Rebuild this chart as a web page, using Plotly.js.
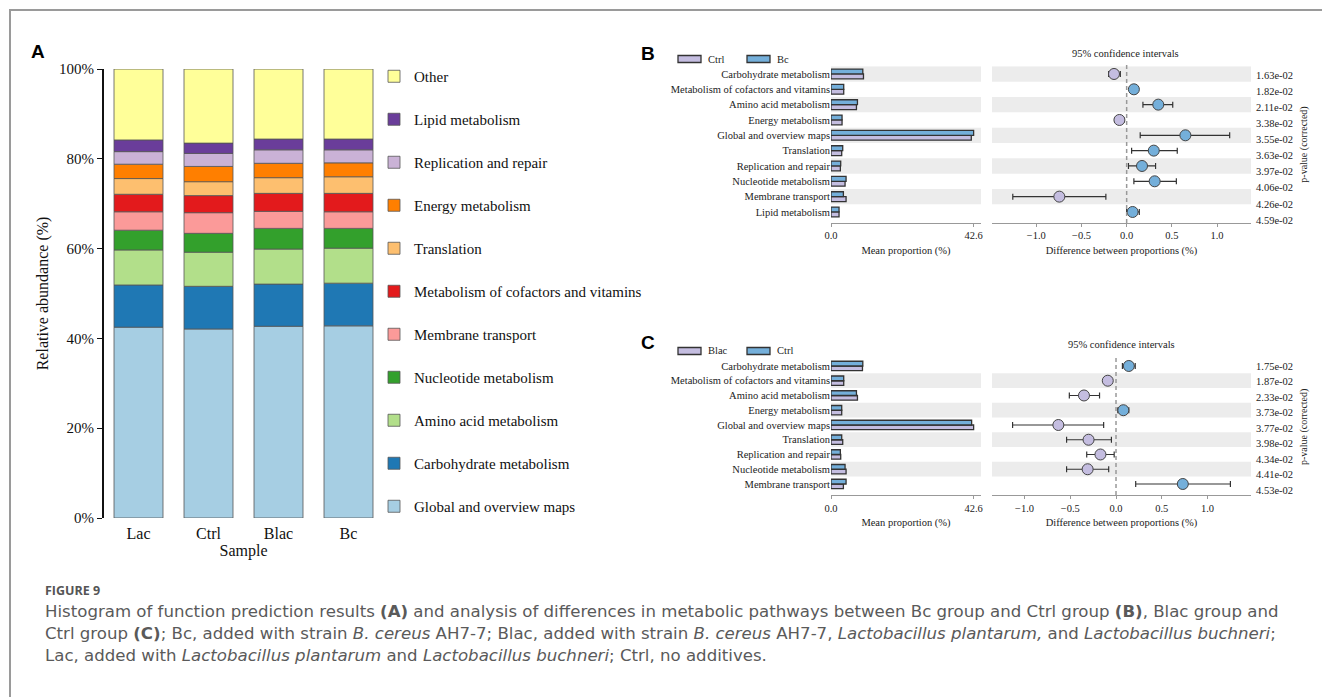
<!DOCTYPE html>
<html>
<head>
<meta charset="utf-8">
<script src="https://cdn.plot.ly/plotly-3.0.1.min.js"></script>
<style>
html,body{margin:0;padding:0;background:#fff;}
#chart{width:1322px;height:697px;}
</style>
</head>
<body>
<div id="chart"></div>
<script>
// ---------------- Panel A data ----------------
var samples = ['Lac', 'Ctrl', 'Blac', 'Bc'];
var pathways = ['Global and overview maps', 'Carbohydrate metabolism', 'Amino acid metabolism',
  'Nucleotide metabolism', 'Membrane transport', 'Metabolism of cofactors and vitamins',
  'Translation', 'Energy metabolism', 'Replication and repair', 'Lipid metabolism', 'Other'];
var globalMaps   = [42.5, 42.1, 42.7, 42.8];
var carbohydrate = [9.4, 9.5, 9.4, 9.5];
var aminoAcid    = [7.8, 7.6, 7.8, 7.8];
var nucleotide   = [4.4, 4.2, 4.6, 4.4];
var membrane     = [4.1, 4.6, 3.8, 3.7];
var cofactors    = [3.9, 3.8, 4.0, 4.1];
var translation  = [3.5, 3.1, 3.5, 3.7];
var energy       = [3.2, 3.4, 3.2, 3.1];
var replication  = [2.8, 2.9, 3.0, 2.9];
var lipid        = [2.6, 2.3, 2.4, 2.4];
var other        = [15.8, 16.5, 15.6, 15.6];
var seriesA = [globalMaps, carbohydrate, aminoAcid, nucleotide, membrane, cofactors,
  translation, energy, replication, lipid, other];
var colorsA = ['#a6cee3', '#1f78b4', '#b2df8a', '#33a02c', '#fb9a99', '#e31a1c',
  '#fdbf6f', '#ff7f00', '#cab2d6', '#6a3d9a', '#ffff99'];
var yTicksA = [0, 20, 40, 60, 80, 100];

// ---------------- Panel B data (top to bottom) ----------------
var catB = ['Carbohydrate metabolism', 'Metabolism of cofactors and vitamins', 'Amino acid metabolism',
  'Energy metabolism', 'Global and overview maps', 'Translation', 'Replication and repair',
  'Nucleotide metabolism', 'Membrane transport', 'Lipid metabolism'];
var ctrlB = [9.7, 3.8, 7.6, 3.3, 41.9, 3.2, 2.8, 4.2, 4.5, 2.4];
var bcB   = [9.5, 3.8, 7.9, 3.3, 42.6, 3.5, 2.9, 4.5, 3.7, 2.4];
var diffB = [-0.14, 0.08, 0.35, -0.08, 0.65, 0.30, 0.17, 0.31, -0.745, 0.066];
var loB   = [-0.20, 0.05, 0.18, -0.13, 0.15, 0.055, 0.02, 0.08, -1.26, 0.0];
var hiB   = [-0.07, 0.11, 0.51, -0.03, 1.14, 0.56, 0.32, 0.55, -0.23, 0.14];
var pB    = ['1.63e-02', '1.82e-02', '2.11e-02', '3.38e-02', '3.55e-02', '3.63e-02',
  '3.97e-02', '4.06e-02', '4.26e-02', '4.59e-02'];

// ---------------- Panel C data (top to bottom) ----------------
var catC = ['Carbohydrate metabolism', 'Metabolism of cofactors and vitamins', 'Amino acid metabolism',
  'Energy metabolism', 'Global and overview maps', 'Translation', 'Replication and repair',
  'Nucleotide metabolism', 'Membrane transport'];
var blacC = [9.4, 3.8, 7.9, 3.2, 42.6, 3.5, 2.9, 4.5, 3.7];
var ctrlC = [9.5, 3.8, 7.6, 3.2, 42.0, 3.2, 2.8, 4.2, 4.5];
var diffC = [0.14, -0.09, -0.35, 0.08, -0.63, -0.30, -0.17, -0.31, 0.73];
var loC   = [0.07, -0.12, -0.51, 0.02, -1.13, -0.54, -0.32, -0.54, 0.215];
var hiC   = [0.21, -0.06, -0.18, 0.14, -0.135, -0.05, -0.02, -0.08, 1.25];
var pC    = ['1.75e-02', '1.87e-02', '2.33e-02', '3.73e-02', '3.77e-02', '3.98e-02',
  '4.34e-02', '4.41e-02', '4.53e-02'];
var meanTicks = [0, 42.6];
var meanTickText = ['0.0', '42.6'];
var diffTicks = [-1, -0.5, 0, 0.5, 1];

// ---------------- helpers ----------------
var W = 1322, H = 697;
function X(px) { return px / W; }
function Y(py) { return 1 - py / H; }
var SERIF = 'Liberation Serif, Times New Roman, serif';
var LAV = '#c4bde0', BLUE = '#74afda', BAND = '#ececec';

var traces = [];
// Panel A stacked bars
var cum = [0, 0, 0, 0];
seriesA.forEach(function (vals, i) {
  traces.push({
    type: 'bar', x: samples, y: vals, base: cum.slice(), name: pathways[i],
    xaxis: 'x', yaxis: 'y', width: 0.7, offset: -0.35,
    legendgroup: pathways[i], legendrank: 1000 - i, showlegend: true,
    marker: { color: colorsA[i], line: { color: '#555', width: 0.8 } },
    hoverinfo: 'skip'
  });
  cum = cum.map(function (c, k) { return c + vals[k]; });
});

function rev(a) { return a.slice().reverse(); }
function idx(n) { var r = []; for (var i = 0; i < n; i++) r.push(i); return r; }

function addPanel(cats, lowVals, highVals, lowColor, highColor, diff, lo, hi, xa, ya, xd, yd) {
  var yc = rev(cats);
  traces.push({ type: 'bar', orientation: 'h', y: yc, x: rev(lowVals), xaxis: xa, yaxis: ya,
    width: 0.32, offset: -0.32, showlegend: false, hoverinfo: 'skip',
    marker: { color: lowColor, line: { color: '#333', width: 1.3 } } });
  traces.push({ type: 'bar', orientation: 'h', y: yc, x: rev(highVals), xaxis: xa, yaxis: ya,
    width: 0.32, offset: 0, showlegend: false, hoverinfo: 'skip',
    marker: { color: highColor, line: { color: '#333', width: 1.3 } } });
  var d = rev(diff), l = rev(lo), h = rev(hi);
  traces.push({ type: 'scatter', mode: 'markers', y: yc, x: d, xaxis: xd, yaxis: yd,
    showlegend: false, hoverinfo: 'skip', cliponaxis: false,
    error_x: { type: 'data', symmetric: false,
      array: d.map(function (v, k) { return h[k] - v; }),
      arrayminus: d.map(function (v, k) { return v - l[k]; }),
      color: '#333', thickness: 1.2, width: 3 },
    marker: { size: 11, color: d.map(function (v) { return v >= 0 ? highColor : lowColor; }),
      line: { color: '#444', width: 1 } } });
}
addPanel(catB, ctrlB, bcB, LAV, BLUE, diffB, loB, hiB, 'x2', 'y2', 'x3', 'y3');
addPanel(catC, blacC, ctrlC, LAV, BLUE, diffC, loC, hiC, 'x4', 'y5', 'x5', 'y6');
// invisible traces to activate p-value axes
traces.push({ type: 'scatter', x: [0], y: [0], xaxis: 'x3', yaxis: 'y4', mode: 'markers',
  marker: { opacity: 0 }, showlegend: false, hoverinfo: 'skip' });
traces.push({ type: 'scatter', x: [0], y: [0], xaxis: 'x5', yaxis: 'y7', mode: 'markers',
  marker: { opacity: 0 }, showlegend: false, hoverinfo: 'skip' });

var shapes = [];
// figure frame
shapes.push({ type: 'rect', xref: 'paper', yref: 'paper', x0: X(10), x1: X(1340), y0: Y(10), y1: Y(720),
  line: { color: '#9a9a9a', width: 2 }, fillcolor: 'rgba(0,0,0,0)' });
function bands(n, xa, ya) {
  for (var i = 1; i < n; i += 2) {
    shapes.push({ type: 'rect', layer: 'below', xref: xa + ' domain', yref: ya,
      x0: 0, x1: 1, y0: i - 0.5, y1: i + 0.5, fillcolor: BAND, line: { width: 0 } });
  }
}
bands(catB.length, 'x2', 'y2'); bands(catB.length, 'x3', 'y3');
bands(catC.length, 'x4', 'y5'); bands(catC.length, 'x5', 'y6');
// zero dashed lines
shapes.push({ type: 'line', xref: 'x3', yref: 'paper', x0: 0, x1: 0, y0: Y(223), y1: Y(62),
  line: { color: '#999', width: 1.5, dash: '4px,3px' } });
shapes.push({ type: 'line', xref: 'x5', yref: 'paper', x0: 0, x1: 0, y0: Y(495), y1: Y(357),
  line: { color: '#999', width: 1.5, dash: '4px,3px' } });
// legend swatches B / C
function swatch(x0, yc, col) {
  shapes.push({ type: 'rect', xref: 'paper', yref: 'paper', x0: X(x0), x1: X(x0 + 23),
    y0: Y(yc + 3.5), y1: Y(yc - 3.5), fillcolor: col, line: { color: '#333', width: 1.3 } });
}
swatch(678, 59, LAV); swatch(747, 59, BLUE);
swatch(678, 351, LAV); swatch(747, 351, BLUE);

var ann = [];
function txt(t, x, y, opts) {
  var a = Object.assign({ text: t, xref: 'paper', yref: 'paper', x: X(x), y: Y(y),
    xanchor: 'left', yanchor: 'middle', showarrow: false,
    font: { family: SERIF, size: 10.5, color: '#222' } }, opts || {});
  ann.push(a);
}
txt('Ctrl', 706, 59); txt('Bc', 775, 59);
txt('Blac', 706, 351); txt('Ctrl', 775, 351);
txt('95% confidence intervals', 1125, 53, { xanchor: 'center' });
txt('95% confidence intervals', 1121, 344, { xanchor: 'center' });
var LBL = { family: 'Liberation Sans, Arial, sans-serif', size: 19, color: '#000', weight: 'bold' };
txt('<b>A</b>', 29, 52, { font: LBL });
txt('<b>B</b>', 639, 53, { font: LBL });
txt('<b>C</b>', 639, 342, { font: LBL });
var CAP = { family: 'DejaVu Sans, sans-serif', size: 16.6, color: '#5a5a5a' };
txt('<b>FIGURE 9</b>', 43, 590, { font: { family: 'Open Sans, sans-serif', size: 12.5, color: '#555' } });
txt('Histogram of function prediction results <b>(A)</b> and analysis of differences in metabolic pathways between Bc group and Ctrl group <b>(B)</b>, Blac group and', 43, 611, { font: CAP });
txt('Ctrl group <b>(C)</b>; Bc, added with strain <i>B. cereus</i> AH7-7; Blac, added with strain <i>B. cereus</i> AH7-7, <i>Lactobacillus plantarum,</i> and <i>Lactobacillus buchneri</i>;', 43, 633, { font: CAP });
txt('Lac, added with <i>Lactobacillus plantarum</i> and <i>Lactobacillus buchneri</i>; Ctrl, no additives.', 43, 655, { font: CAP });

var tf = { family: SERIF, size: 10.5, color: '#222' };
function meanAxis(dom, anchor) {
  return { domain: dom, anchor: anchor, range: [0, 44.8], tickvals: meanTicks, ticktext: meanTickText,
    showline: true, linecolor: '#999', linewidth: 1, ticks: 'outside', ticklen: 3, tickcolor: '#999',
    showgrid: false, zeroline: false, tickfont: tf,
    title: { text: 'Mean proportion (%)', font: tf, standoff: 6 } };
}
function diffAxis(dom, anchor, rng) {
  return { domain: dom, anchor: anchor, range: rng, tickvals: diffTicks, tickformat: '.1f',
    showline: true, linecolor: '#999', linewidth: 1, ticks: 'outside', ticklen: 3, tickcolor: '#999',
    showgrid: false, zeroline: false, tickfont: tf,
    title: { text: 'Difference between proportions (%)', font: tf, standoff: 6 } };
}
function catAxis(dom, anchor, cats, rng, showLabels) {
  return { domain: dom, anchor: anchor, type: 'category', categoryorder: 'array',
    categoryarray: rev(cats), range: rng, showline: false, showgrid: false, zeroline: false,
    ticks: '', showticklabels: showLabels, tickfont: tf };
}
function pAxis(over, anchor, pv, rng) {
  return { overlaying: over, anchor: anchor, side: 'right', range: rng,
    tickvals: idx(pv.length), ticktext: rev(pv), showgrid: false, zeroline: false,
    showline: false, ticks: '', tickfont: tf, ticklabelstandoff: 4,
    title: { text: 'p-value (corrected)', font: { family: SERIF, size: 10, color: '#222' }, standoff: 7 } };
}

var domBy = [Y(222.7), Y(66.3)], domCy = [Y(495), Y(358.6)];
var layout = {
  width: W, height: H, margin: { l: 0, r: 0, t: 0, b: 0, pad: 0 },
  paper_bgcolor: '#fff', plot_bgcolor: 'rgba(0,0,0,0)',
  barmode: 'overlay', showlegend: true,
  legend: { x: X(374), y: Y(60), xanchor: 'left', yanchor: 'top',
    traceorder: 'grouped', tracegroupgap: 20.5,
    font: { family: SERIF, size: 15, color: '#111' }, bgcolor: 'rgba(0,0,0,0)' },
  xaxis: { domain: [X(103.5), X(383.5)], anchor: 'y', type: 'category', range: [-0.5, 3.5],
    showline: false, showgrid: false, zeroline: false, ticks: 'outside', ticklen: 1,
    tickcolor: 'rgba(0,0,0,0)', tickfont: { family: SERIF, size: 16, color: '#111' },
    title: { text: 'Sample', font: { family: SERIF, size: 16, color: '#111' }, standoff: 0 } },
  yaxis: { domain: [Y(518), Y(69)], anchor: 'x', range: [0, 100], tickvals: yTicksA,
    ticktext: yTicksA.map(function (v) { return v + '%'; }),
    showline: true, linecolor: '#111', linewidth: 1.5, ticks: 'outside', ticklen: 5, tickcolor: '#111',
    showgrid: false, zeroline: false, tickfont: { family: SERIF, size: 15, color: '#111' },
    title: { text: 'Relative abundance (%)', font: { family: SERIF, size: 16, color: '#111' }, standoff: 6 } },
  xaxis2: meanAxis([X(831), X(981)], 'y2'),
  yaxis2: catAxis(domBy, 'x2', catB, [-0.7, 9.5], true),
  xaxis3: diffAxis([X(992), X(1251)], 'y3', [-1.49, 1.376]),
  yaxis3: catAxis(domBy, 'x3', catB, [-0.7, 9.5], false),
  yaxis4: pAxis('y3', 'x3', pB, [-0.168, 9.54]),
  xaxis4: meanAxis([X(831), X(981)], 'y5'),
  yaxis5: catAxis(domCy, 'x4', catC, [-0.746, 8.5], true),
  xaxis5: diffAxis([X(992), X(1251)], 'y6', [-1.355, 1.475]),
  yaxis6: catAxis(domCy, 'x5', catC, [-0.746, 8.5], false),
  yaxis7: pAxis('y6', 'x5', pC, [-0.32, 8.48]),
  shapes: shapes, annotations: ann
};
Plotly.newPlot('chart', traces, layout, { staticPlot: true, displayModeBar: false });
</script>
</body>
</html>
